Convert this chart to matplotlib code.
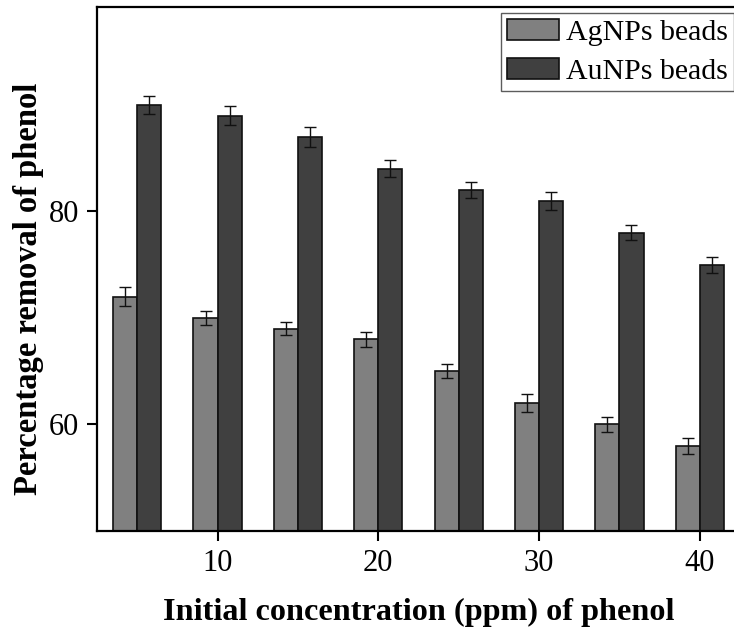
import matplotlib
matplotlib.use("Agg")
import matplotlib.pyplot as plt
import numpy as np

concentration = [5, 10, 15, 20, 25, 30, 35, 40]
ag_values = [72, 70, 69, 68, 65, 62, 60, 58]
ag_errors = [0.9, 0.7, 0.6, 0.7, 0.65, 0.85, 0.7, 0.75]
au_values = [90, 89, 87, 84, 82, 81, 78, 75]
au_errors = [0.8, 0.9, 0.9, 0.8, 0.75, 0.85, 0.7, 0.75]
x_ticks = [10, 20, 30, 40]
y_ticks = [60, 80]

plt.rcParams['font.family'] = ['Liberation Serif', 'DejaVu Serif']

fig = plt.figure(figsize=(7.34, 6.37), dpi=100)
ax = fig.add_axes([97/734, 1 - 531/637, (740 - 97)/734, (531 - 7)/637])

w = 1.5
ax.bar(concentration, ag_values, width=-w, align='edge', color='#808080',
       edgecolor='#111111', linewidth=1.2, label='AgNPs beads', zorder=2)
ax.bar(concentration, au_values, width=w, align='edge', color='#404040',
       edgecolor='#111111', linewidth=1.2, label='AuNPs beads', zorder=2)
xc = np.array(concentration, dtype=float)
ax.errorbar(xc - w/2, ag_values, yerr=ag_errors, fmt='none', ecolor='#111111',
            elinewidth=1.0, capsize=4, capthick=1.0, zorder=3)
ax.errorbar(xc + w/2, au_values, yerr=au_errors, fmt='none', ecolor='#111111',
            elinewidth=1.0, capsize=4, capthick=1.0, zorder=3)

ax.set_xlim(2.5, 42.5)
ax.set_ylim(50, 99.2)
ax.set_xticks(x_ticks)
ax.set_yticks(y_ticks)
ax.tick_params(axis='both', direction='out', length=7, width=1.5, labelsize=22, pad=6)
for s in ax.spines.values():
    s.set_linewidth(1.6)

ax.set_xlabel('Initial concentration (ppm) of phenol', fontsize=23.2,
              fontweight='bold', labelpad=14)
ax.set_ylabel('Percentage removal of phenol', fontsize=23.5,
              fontweight='bold', labelpad=3)
ax.yaxis.set_label_coords(-0.083, 0.462)

leg = ax.legend(loc='upper right', bbox_to_anchor=(1.0, 1.0), fontsize=21.5,
                frameon=True, fancybox=False, edgecolor='#333333',
                borderpad=0.2, labelspacing=0.42, handlelength=1.75,
                handleheight=0.7, handletextpad=0.25, borderaxespad=0.19)
leg.get_frame().set_linewidth(1.0)

fig.savefig('out.png', dpi=100)
